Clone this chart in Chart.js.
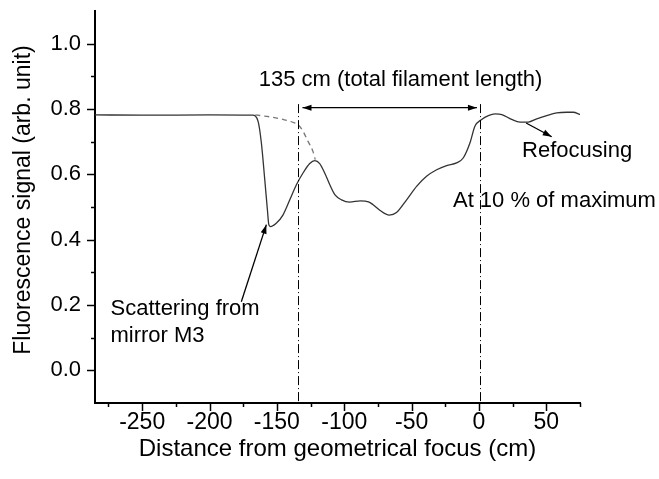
<!DOCTYPE html>
<html>
<head>
<meta charset="utf-8">
<script src="https://cdn.jsdelivr.net/npm/chart.js@4"></script>
<style>
  html, body { margin: 0; padding: 0; background: #fff; }
  #wrap { width: 659px; height: 479px; }
</style>
</head>
<body>
<div id="wrap"><canvas id="chart" width="659" height="479"></canvas></div>
<script>
// measured signal (solid) and the unperturbed signal (dashed)
const solidX = [-285, -250, -200, -168, -164, -161.5, -159, -157, -156, -154.8, -150.3, -145.4, -140.4, -135.5, -130.6, -125.6, -121.9, -118.2, -114.5, -110.7, -107, -102, -96, -88, -82, -78.6, -73.6, -66.6, -61.2, -53.7, -46.3, -38.9, -31.4, -24, -16.6, -11.7, -6.7, -3, 2, 7, 12, 17, 24.3, 30.5, 36.6, 42.9, 50.3, 57.7, 65.2, 70, 75];
const solidY = [0.782, 0.781, 0.782, 0.781, 0.763, 0.696, 0.584, 0.49, 0.446, 0.44, 0.451, 0.476, 0.522, 0.568, 0.604, 0.633, 0.642, 0.633, 0.604, 0.568, 0.538, 0.522, 0.515, 0.519, 0.516, 0.507, 0.49, 0.475, 0.483, 0.522, 0.563, 0.594, 0.614, 0.627, 0.635, 0.65, 0.696, 0.747, 0.768, 0.78, 0.785, 0.783, 0.768, 0.76, 0.76, 0.77, 0.78, 0.788, 0.79, 0.79, 0.783];
const dashX = [-166, -155.3, -145.4, -139.2, -134.3, -130.6, -126.9, -123.2, -121.5];
const dashY = [0.782, 0.776, 0.768, 0.761, 0.752, 0.732, 0.701, 0.67, 0.645];

const xTicks = [-275, -250, -225, -200, -175, -150, -125, -100, -75, -50, -25, 0, 25, 50, 75];
const xLabels = [-250, -200, -150, -100, -50, 0, 50];
const yTicks = [0, 0.1, 0.2, 0.3, 0.4, 0.5, 0.6, 0.7, 0.8, 0.9, 1.0];
const yLabels = [0, 0.2, 0.4, 0.6, 0.8, 1.0];
const yTitle = 'Fluorescence signal (arb. unit)';

// filament limits, arrows and notes (data coordinates)
const limitsX = [-134.5, 1];
const limitTop = 0.815;
const arrows = [
  { from: [-131, 0.804], to: [-1.5, 0.804], both: true },
  { from: [-176.4, 0.21], to: [-157.8, 0.446] },
  { from: [35, 0.757], to: [54, 0.715] }
];
const notes = [
  { text: '135 cm (total filament length)', x: -163.5, y: 0.89 },
  { text: 'Refocusing', x: 32, y: 0.673 },
  { text: 'At 10 % of maximum', x: -19.3, y: 0.519 },
  { text: 'Scattering from', x: -273.5, y: 0.188 },
  { text: 'mirror M3', x: -273.5, y: 0.105 }
];

const FONT = "'Liberation Sans', Arial, sans-serif";
const has = (arr, v) => arr.some(a => Math.abs(a - v) < 1e-6);

function head(ctx, x1, y1, x2, y2) {
  const a = Math.atan2(y2 - y1, x2 - x1), L = 9, W = 3;
  ctx.beginPath();
  ctx.moveTo(x2, y2);
  ctx.lineTo(x2 - L * Math.cos(a) + W * Math.sin(a), y2 - L * Math.sin(a) - W * Math.cos(a));
  ctx.lineTo(x2 - L * Math.cos(a) - W * Math.sin(a), y2 - L * Math.sin(a) + W * Math.cos(a));
  ctx.closePath();
  ctx.fill();
}

const extras = {
  id: 'extras',
  afterDraw(chart) {
    const { ctx, scales: { x, y }, chartArea: ca } = chart;
    ctx.save();
    ctx.strokeStyle = '#000';
    ctx.fillStyle = '#000';

    // tick marks, long on labelled values
    ctx.lineWidth = 1.5;
    xTicks.forEach(v => {
      const px = Math.round(x.getPixelForValue(v)) + 0.5;
      const len = has(xLabels, v) ? 8 : 4;
      ctx.beginPath(); ctx.moveTo(px, ca.bottom); ctx.lineTo(px, ca.bottom + len); ctx.stroke();
    });
    yTicks.forEach(v => {
      const py = Math.round(y.getPixelForValue(v)) + 0.5;
      const len = has(yLabels, v) ? 8 : 4;
      ctx.beginPath(); ctx.moveTo(ca.left, py); ctx.lineTo(ca.left - len, py); ctx.stroke();
    });

    // dash-dot limits
    ctx.lineWidth = 1;
    ctx.setLineDash([9, 3, 1, 3]);
    limitsX.forEach(v => {
      const px = Math.round(x.getPixelForValue(v)) + 0.5;
      ctx.beginPath(); ctx.moveTo(px, y.getPixelForValue(limitTop)); ctx.lineTo(px, ca.bottom); ctx.stroke();
    });
    ctx.setLineDash([]);

    // arrows
    arrows.forEach(a => {
      const x1 = x.getPixelForValue(a.from[0]), y1 = y.getPixelForValue(a.from[1]);
      const x2 = x.getPixelForValue(a.to[0]), y2 = y.getPixelForValue(a.to[1]);
      ctx.lineWidth = 1.3;
      ctx.beginPath(); ctx.moveTo(x1, y1); ctx.lineTo(x2, y2); ctx.stroke();
      head(ctx, x1, y1, x2, y2);
      if (a.both) head(ctx, x2, y2, x1, y1);
    });

    // notes
    ctx.font = '22px ' + FONT;
    ctx.textBaseline = 'middle';
    ctx.textAlign = 'left';
    notes.forEach(n => ctx.fillText(n.text, x.getPixelForValue(n.x), y.getPixelForValue(n.y)));

    // y title, a bit below the plot centre as in the source figure
    ctx.translate(24, 200);
    ctx.rotate(-Math.PI / 2);
    ctx.font = '23px ' + FONT;
    ctx.textAlign = 'center';
    ctx.fillText(yTitle, 0, 0);
    ctx.restore();
  }
};

new Chart(document.getElementById('chart'), {
  type: 'scatter',
  data: {
    datasets: [
      {
        data: solidX.map((v, i) => ({ x: v, y: solidY[i] })),
        showLine: true, borderColor: '#333', borderWidth: 1.3,
        pointRadius: 0, cubicInterpolationMode: 'monotone'
      },
      {
        data: dashX.map((v, i) => ({ x: v, y: dashY[i] })),
        showLine: true, borderColor: '#777', borderWidth: 1.3, borderDash: [5, 4],
        pointRadius: 0, cubicInterpolationMode: 'monotone'
      }
    ]
  },
  options: {
    responsive: false, animation: false,
    layout: { padding: { left: 0, right: 79, top: 11, bottom: 0 } },
    plugins: { legend: { display: false }, tooltip: { enabled: false } },
    scales: {
      x: {
        type: 'linear', min: -285, max: 75,
        afterBuildTicks: s => { s.ticks = xTicks.map(v => ({ value: v })); },
        afterFit: s => { s.height = 76; s.paddingLeft = 0; s.paddingRight = 0; },
        grid: { display: false, drawTicks: false },
        border: { display: true, color: '#000', width: 2 },
        ticks: {
          padding: 6, color: '#000', maxRotation: 0, autoSkip: false,
          font: { family: FONT, size: 23 },
          callback: v => has(xLabels, v) ? String(v) : ''
        },
        title: {
          display: true, text: 'Distance from geometrical focus (cm)', color: '#000',
          font: { family: FONT, size: 24 }, padding: { top: 0, bottom: 15 }
        }
      },
      y: {
        type: 'linear', min: -0.1, max: 1.1,
        afterBuildTicks: s => { s.ticks = yTicks.map(v => ({ value: v })); },
        afterFit: s => { s.width = 95; s.paddingTop = 0; s.paddingBottom = 0; },
        grid: { display: false, drawTicks: false },
        border: { display: true, color: '#000', width: 2 },
        ticks: {
          padding: 14, color: '#000', autoSkip: false,
          font: { family: FONT, size: 22 },
          callback: v => has(yLabels, v) ? v.toFixed(1) : ''
        }
      }
    }
  },
  plugins: [extras]
});
</script>
</body>
</html>
